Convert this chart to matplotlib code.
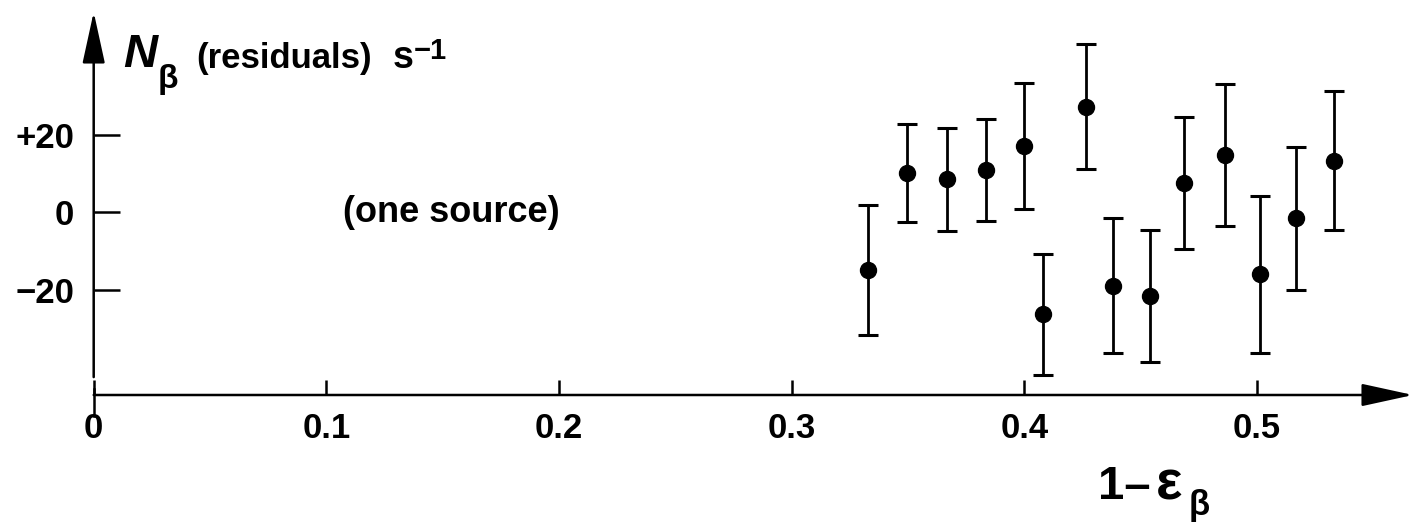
import numpy as np
import matplotlib.pyplot as plt

plt.rcParams['font.family'] = ['Liberation Sans', 'DejaVu Sans']
plt.rcParams['font.weight'] = 'bold'

# 1 - eps_beta, residual counts and their errors
x = [0.3327, 0.3495, 0.3669, 0.3836, 0.3997, 0.4079, 0.4266,
     0.4383, 0.4540, 0.4686, 0.4863, 0.5013, 0.5170, 0.5331]
resid = [-14.8, 10.1, 8.5, 10.9, 17.1, -26.2, 27.2,
         -18.8, -21.4, 7.5, 14.8, -15.9, -1.5, 13.3]
err = [16.6, 12.6, 13.2, 13.2, 16.2, 15.6, 16.1,
       17.4, 17.0, 16.9, 18.3, 20.1, 18.3, 17.8]

xticks = [0, 0.1, 0.2, 0.3, 0.4, 0.5]
xticklabels = ['0', '0.1', '0.2', '0.3', '0.4', '0.5']
yticks = [-20, 0, 20]
yticklabels = ['\u221220', '0', '+20']

W, H = 1419, 524
def fx(px):
    return px / W
def fy(py):
    return 1 - py / H

fig = plt.figure(figsize=(W / 100, H / 100), dpi=100)
ax = fig.add_axes([fx(93.7), 129 / H, (1413 - 93.7) / W, 383 / H])
ax.set_xlim(0, 0.5671)
ax.set_ylim(-46.9, 51.5)

for s in ax.spines.values():
    s.set_visible(False)

lw = 1.8
arrow = dict(arrowstyle='-|>,head_length=1.6,head_width=0.35', mutation_scale=20,
             color='black', lw=lw, shrinkA=0, shrinkB=0)
ax.annotate('', xy=(1, 0), xytext=(0, 0), xycoords='axes fraction', arrowprops=arrow)
ax.annotate('', xy=(0, 1), xytext=(0, -42.3), xycoords=('data', 'axes fraction'),
            textcoords='data', arrowprops=arrow)
ax.plot([0, 0], [-45.4, -52.3], color='black', lw=lw, clip_on=False)

ax.set_xticks(xticks)
ax.set_xticklabels(xticklabels)
ax.set_yticks(yticks)
ax.set_yticklabels(yticklabels)
ax.tick_params(axis='x', direction='in', length=11, width=lw, pad=12, labelsize=25)
ax.tick_params(axis='y', direction='in', length=19, width=lw, pad=14, labelsize=25)

ax.errorbar(x, resid, yerr=err, fmt='o', color='black', ms=11.5,
            elinewidth=2.0, capsize=7.5, capthick=2.2, clip_on=False)

fig.text(fx(123), fy(67), 'N', fontsize=34, style='italic', weight='bold')
fig.text(fx(158), fy(88), '\u03b2', fontsize=24, weight='bold')
fig.text(fx(196), fy(68), '(residuals)', fontsize=25, weight='bold')
fig.text(fx(393), fy(68), 's', fontsize=27, weight='bold')
fig.text(fx(414), fy(59), '\u22121', fontsize=21, weight='bold')

fig.text(fx(343), fy(212), '(one source)', fontsize=26, weight='bold', va='center')

fig.text(fx(1098), fy(499), '1\u2013', fontsize=34, weight='bold')
fig.text(fx(1156), fy(499), '\u03b5', fontsize=40, weight='bold')
fig.text(fx(1189), fy(515), '\u03b2', fontsize=25, weight='bold')

fig.savefig('out.png', dpi=100, facecolor='white')
